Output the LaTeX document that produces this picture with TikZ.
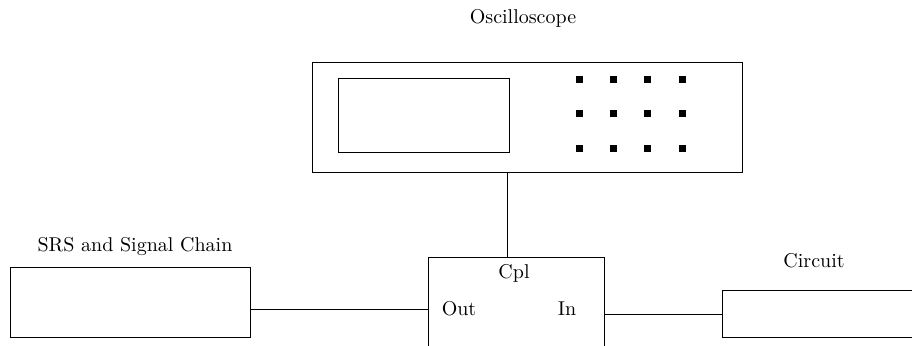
\documentclass[tikz,border=0pt]{standalone}
\begin{document}
\begin{tikzpicture}[x=0.5pt,y=-0.5pt,
  box/.style={draw,rectangle,inner sep=0pt,line width=0.5pt},
  knob/.style={fill=black,rectangle,inner sep=0pt,minimum width=3.5pt,minimum height=3.5pt},
  lbl/.style={inner sep=0pt,font=\normalsize},
  wire/.style={line width=0.5pt}]
\useasboundingbox (0,0) rectangle (912,346);
% oscilloscope
\node[box,minimum width=215pt,minimum height=55pt] (osc) at (527,118) {};
\node[box,minimum width=85.5pt,minimum height=37pt] (screen) at (423.5,116) {};
\foreach \i/\x in {1/579,2/613,3/647,4/682}{
  \foreach \j/\y in {1/80,2/114,3/149}{
    \node[knob] (k\i\j) at (\x,\y) {};
  }
}
\node[lbl] (osclbl) at (523,18) {Oscilloscope};
% SRS
\node[box,minimum width=120pt,minimum height=35pt] (srs) at (130,303) {};
\node[lbl] (srslbl) at (135,247) {SRS and Signal Chain};
% Cpl
\node[box,minimum width=88pt,minimum height=51pt] (cpl) at (516,309) {};
\node[lbl] (cpllbl) at (514,273) {Cpl};
\node[lbl] (out) at (459,309) {Out};
\node[lbl] (in) at (567,309) {In};
% Circuit
\node[box,minimum width=115pt,minimum height=23.5pt] (circ) at (837,314.5) {};
\node[lbl] (circlbl) at (814,261) {Circuit};
% connectors
\coordinate (tap) at (507,173);
\draw[wire] (tap) -- (tap |- cpl.north);
\coordinate (srsy) at (250,310);
\draw[wire] (srsy) -- (srsy -| cpl.west);
\draw[wire] (cpl.east |- circ.west) -- (circ.west);
\end{tikzpicture}
\end{document}
